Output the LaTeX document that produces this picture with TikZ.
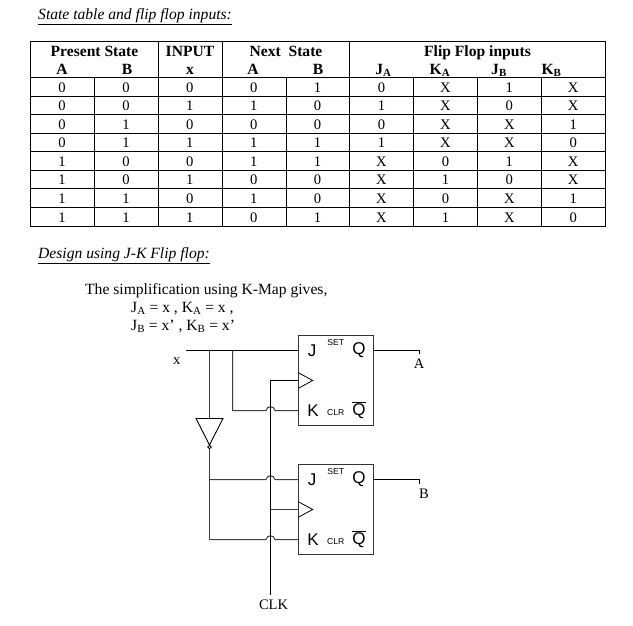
\documentclass[tikz,border=0pt]{standalone}
\usepackage{fontspec}
\setmainfont{Liberation Serif}
\newfontfamily\ffont{Liberation Sans}
\tikzset{
  gridline/.style={line width=1pt},
  cellval/.style={anchor=base,inner sep=0pt,font=\fontsize{14.6}{15}\selectfont},
  headval/.style={anchor=base,inner sep=0pt,font=\fontsize{15.6}{16}\selectfont\bfseries},
  bodytext/.style={anchor=base west,inner sep=0pt,font=\fontsize{15.6}{17}\selectfont},
  titletext/.style={anchor=base west,inner sep=0pt,font=\fontsize{15.6}{17}\selectfont\itshape},
  netlabel/.style={anchor=base,inner sep=0pt,font=\fontsize{14.5}{16}\selectfont},
  ffbox/.style={draw=black!80,line width=1pt,minimum width=75pt,minimum height=90pt,inner sep=0pt},
  bigpin/.style={inner sep=0pt,font=\ffont\fontsize{17}{18}\selectfont},
  smallpin/.style={inner sep=0pt,font=\ffont\fontsize{8.6}{9}\selectfont},
  wire/.style={line width=1pt,black},
  greywire/.style={line width=1pt,black!75}
}
\begin{document}
\begin{tikzpicture}[x=1pt,y=-1pt]
  \useasboundingbox (0,0) rectangle (633,625);
  \node[titletext] (title1) at (38,19.5) {\underline{State table and flip flop inputs:}};
  % table
  \draw[gridline] (30.5,41.5) rectangle (605.5,226.5);
  \draw[gridline] (158.5,41.5) -- (158.5,226.5);
  \draw[gridline] (222.5,41.5) -- (222.5,226.5);
  \draw[gridline] (349.5,41.5) -- (349.5,226.5);
  \foreach \lx in {94.5,286.5,413.5,477.5,541.5}
    \draw[gridline] (\lx,77.5) -- (\lx,226.5);
  \foreach \ly in {77.5,96.5,114.5,133.5,151.5,170.5,188.5,207.5}
    \draw[gridline] (30.5,\ly) -- (605.5,\ly);
  \node[headval] (hpresent) at (94.5,56) {Present State};
  \node[headval] (hinput) at (190,56) {INPUT};
  \node[headval] (hnext) at (286,56) {Next\ \ State};
  \node[headval] (hflip) at (477.5,56) {Flip Flop inputs};
  \node[headval] (ha) at (62,74) {A};
  \node[headval] (hb) at (127,74) {B};
  \node[headval] (hx) at (190,74) {x};
  \node[headval] (hna) at (253,74) {A};
  \node[headval] (hnb) at (318,74) {B};
  \node[headval] (hja) at (383.5,74) {J\textsubscript{A}};
  \node[headval] (hka) at (440,74) {K\textsubscript{A}};
  \node[headval] (hjb) at (499,74) {J\textsubscript{B}};
  \node[headval] (hkb) at (551.5,74) {K\textsubscript{B}};
  \foreach \ry/\cells in {
    92.2/{0,0,0,0,1,0,X,1,X},
    110.2/{0,0,1,1,0,1,X,0,X},
    129/{0,1,0,0,0,0,X,X,1},
    147.7/{0,1,1,1,1,1,X,X,0},
    166/{1,0,0,1,1,X,0,1,X},
    184.7/{1,0,1,0,0,X,1,0,X},
    203/{1,1,0,1,0,X,0,X,1},
    222/{1,1,1,0,1,X,1,X,0}}
    \foreach \val [count=\cnum] in \cells
      \node[cellval] (c\ry-\cnum) at ({62+63.9*(\cnum-1)},\ry) {\val};
  % text
  \node[titletext] (title2) at (38,258) {\underline{Design using J-K Flip flop:}};
  \node[bodytext] (simp) at (85,294) {The simplification using K-Map gives,};
  \node[bodytext] (eqa) at (131,312.5) {J\textsubscript{A} = x , K\textsubscript{A} = x ,};
  \node[bodytext] (eqb) at (131,330) {J\textsubscript{B} = x’ , K\textsubscript{B} = x’};
  % flip flops
  \foreach \ff/\yy in {ffa/380.5,ffb/509.5}{
    \node[ffbox] (\ff) at (336,\yy) {};
    \node[bigpin] (\ff j) at (312,\yy-30) {J};
    \node[bigpin] (\ff q) at (359,\yy-30) {Q};
    \node[bigpin] (\ff k) at (313,\yy+30) {K};
    \node[bigpin] (\ff qb) at (359,\yy+30) {$\overline{\mbox{Q}}$};
    \node[smallpin] (\ff set) at (335.7,\yy-37.5) {SET};
    \node[smallpin] (\ff clr) at (335.7,\yy+32) {CLR};
    \coordinate (\ff jpin) at (298.5,\yy-30);
    \coordinate (\ff kpin) at (298.5,\yy+30);
    \coordinate (\ff cpin) at (298.5,\yy);
    \coordinate (\ff qpin) at (373.5,\yy-30);
    \draw[line width=0.8pt] (298.5,\yy-7.7) -- (312.7,\yy) -- (298.5,\yy+7.7);
  }
  % input x and its branches
  \coordinate (xstart) at (186,350.5);
  \coordinate (xinv) at (209.5,350.5);
  \coordinate (xbr) at (232.5,350.5);
  \coordinate (invtop) at (209.5,418.5);
  \coordinate (invl) at (196,418.5);
  \coordinate (invr) at (223,418.5);
  \coordinate (invtip) at (209.5,445);
  \coordinate (nxj) at (209.5,479.5);
  \coordinate (nxk) at (209.5,539.5);
  \coordinate (clkin) at (270.5,594.5);
  \coordinate (clktop) at (270.5,380.5);
  \draw[wire] (xstart) -- (ffajpin);
  \draw[greywire] (xinv) -- (invtop);
  \draw[line width=0.9pt] (invl) -- (invr) -- (invtip) -- cycle;
  \node[draw,circle,line width=0.8pt,minimum size=3.6pt,inner sep=0pt] (bubble) at (209.5,447) {};
  \draw[greywire] (bubble) -- (nxk);
  % jumps over the clock wire
  \draw[greywire] (xbr) -- (232.5,410.5) -- (266,410.5) .. controls +(1,-5) and +(-1,-5) .. +(9,0) -- (ffakpin);
  \draw[greywire] (nxj) -- (266,479.5) .. controls +(1,-5) and +(-1,-5) .. +(9,0) -- (ffbjpin);
  \draw[greywire] (nxk) -- (266,539.5) .. controls +(1,-5) and +(-1,-5) .. +(9,0) -- (ffbkpin);
  % clock
  \draw[wire] (clkin) -- (clktop) -- (ffacpin);
  \draw[greywire] (270.5,509.5) -- (ffbcpin);
  % outputs
  \coordinate (aend) at (419.5,350.5);
  \coordinate (bend) at (419.5,479.5);
  \draw[wire] (ffaqpin) -- (aend) -- +(0,3);
  \draw[wire] (ffbqpin) -- (bend) -- +(0,4);
  \node[netlabel] (xlabel) at (176.7,364.5) {x};
  \node[netlabel] (alabel) at (419,368) {A};
  \node[netlabel] (blabel) at (424,498) {B};
  \node[netlabel] (clklabel) at (273.5,609.5) {CLK};
\end{tikzpicture}
\end{document}
